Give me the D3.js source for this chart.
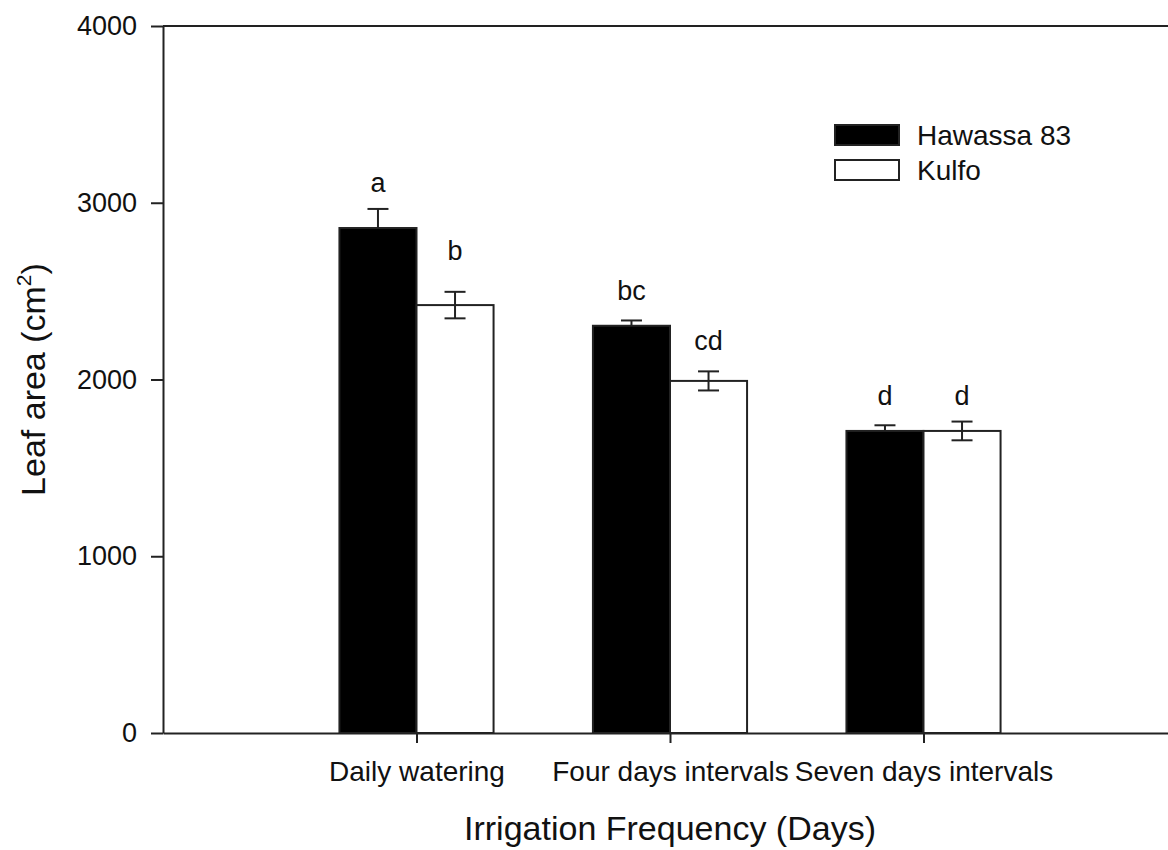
<!DOCTYPE html>
<html><head><meta charset="utf-8">
<script src="https://cdn.jsdelivr.net/npm/d3@7"></script>
<style>body{margin:0;background:#fff}svg{display:block}text{font-family:"Liberation Sans",Arial,sans-serif;fill:#111}</style>
</head><body><svg id="c" width="1168" height="850"></svg>
<script>
const categories = ["Daily watering", "Four days intervals", "Seven days intervals"];
const seriesNames = ["Hawassa 83", "Kulfo"];
const hawassa = [2857, 2304, 1709];
const kulfo = [2421, 1992, 1709];
const hawassaErr = [108, 30, 32];
const kulfoErr = [75, 54, 53];
const hawassaLetters = ["a", "bc", "d"];
const kulfoLetters = ["b", "cd", "d"];
const hawassaLetterY = [3061, 2450, 1856];
const kulfoLetterY = [2676, 2167, 1856];
const yTicks = [0, 1000, 2000, 3000, 4000];

(function () {
const svg = d3.select("#c");
const pL = 163, pR = 1177, pT = 26, pB = 733;
const x = d3.scaleLinear().domain([0, categories.length + 1]).range([pL, pR]);
const y = d3.scaleLinear().domain([0, 4000]).range([pB, pT]);
const halfW = 0.304;
const stroke = "#222";
const fs = 28;

svg.append("line").attr("x1", pL).attr("x2", pR).attr("y1", pT).attr("y2", pT).attr("stroke", stroke).attr("stroke-width", 2);
svg.append("line").attr("x1", pR).attr("x2", pR).attr("y1", pT).attr("y2", pB).attr("stroke", stroke).attr("stroke-width", 2);

const series = [
  {name: seriesNames[0], vals: hawassa, err: hawassaErr, letters: hawassaLetters, ly: hawassaLetterY, fill: "#000", off: -1, lower: false},
  {name: seriesNames[1], vals: kulfo, err: kulfoErr, letters: kulfoLetters, ly: kulfoLetterY, fill: "#fff", off: 0, lower: true}
];

series.forEach(s => {
  const g = svg.append("g");
  g.selectAll("rect").data(s.vals).join("rect")
    .attr("x", (d, i) => x(i + 1 + s.off * halfW))
    .attr("width", x(halfW) - x(0))
    .attr("y", d => y(d))
    .attr("height", d => y(0) - y(d))
    .attr("fill", s.fill).attr("stroke", stroke).attr("stroke-width", 2);
  const cx = i => x(i + 1 + (s.off + 0.5) * halfW);
  g.selectAll("line.v").data(s.vals).join("line").attr("class", "v")
    .attr("x1", (d, i) => cx(i)).attr("x2", (d, i) => cx(i))
    .attr("y1", (d, i) => y(d + s.err[i])).attr("y2", (d, i) => s.lower ? y(d - s.err[i]) : y(d))
    .attr("stroke", stroke).attr("stroke-width", 2);
  g.selectAll("line.t").data(s.vals).join("line").attr("class", "t")
    .attr("x1", (d, i) => cx(i) - 10.5).attr("x2", (d, i) => cx(i) + 10.5)
    .attr("y1", (d, i) => y(d + s.err[i])).attr("y2", (d, i) => y(d + s.err[i]))
    .attr("stroke", stroke).attr("stroke-width", 2);
  if (s.lower) {
    g.selectAll("line.b").data(s.vals).join("line").attr("class", "b")
      .attr("x1", (d, i) => cx(i) - 10.5).attr("x2", (d, i) => cx(i) + 10.5)
      .attr("y1", (d, i) => y(d - s.err[i])).attr("y2", (d, i) => y(d - s.err[i]))
      .attr("stroke", stroke).attr("stroke-width", 2);
  }
  g.selectAll("text").data(s.letters).join("text")
    .attr("x", (d, i) => cx(i)).attr("y", (d, i) => y(s.ly[i]))
    .attr("text-anchor", "middle").attr("font-size", 27).text(d => d);
});

const ya = svg.append("g").attr("transform", `translate(${pL},0)`)
  .call(d3.axisLeft(y).tickValues(yTicks).tickFormat(d3.format("d")).tickSize(12).tickPadding(14).tickSizeOuter(0));
ya.selectAll("path, line").attr("stroke", stroke).attr("stroke-width", 2);
ya.selectAll("text").attr("font-size", 27).attr("font-family", "Liberation Sans, Arial, sans-serif").attr("fill", "#111");

const xa = svg.append("g").attr("transform", `translate(0,${pB})`)
  .call(d3.axisBottom(x).tickValues([1, 2, 3]).tickFormat(d => categories[d - 1]).tickSize(10).tickPadding(18).tickSizeOuter(0));
xa.selectAll("path, line").attr("stroke", stroke).attr("stroke-width", 2);
xa.selectAll("text").attr("font-size", fs).attr("font-family", "Liberation Sans, Arial, sans-serif").attr("fill", "#111");

svg.append("text").attr("x", (pL + pR) / 2).attr("y", 840).attr("text-anchor", "middle").attr("font-size", 34).text("Irrigation Frequency (Days)");
const yt = svg.append("text").attr("transform", `translate(45,${(pT + pB) / 2}) rotate(-90)`).attr("text-anchor", "middle").attr("font-size", 34);
yt.append("tspan").text("Leaf area (cm");
yt.append("tspan").attr("font-size", 21).attr("dy", -14).text("2");
yt.append("tspan").attr("dy", 14).text(")");

const lg = svg.append("g");
lg.selectAll("rect").data(series).join("rect")
  .attr("x", 835).attr("y", (d, i) => 125 + i * 35).attr("width", 64).attr("height", 20)
  .attr("fill", d => d.fill).attr("stroke", stroke).attr("stroke-width", 2);
lg.selectAll("text").data(series).join("text")
  .attr("x", 917).attr("y", (d, i) => 145 + i * 35).attr("font-size", fs).text(d => d.name);
})();
</script></body></html>
